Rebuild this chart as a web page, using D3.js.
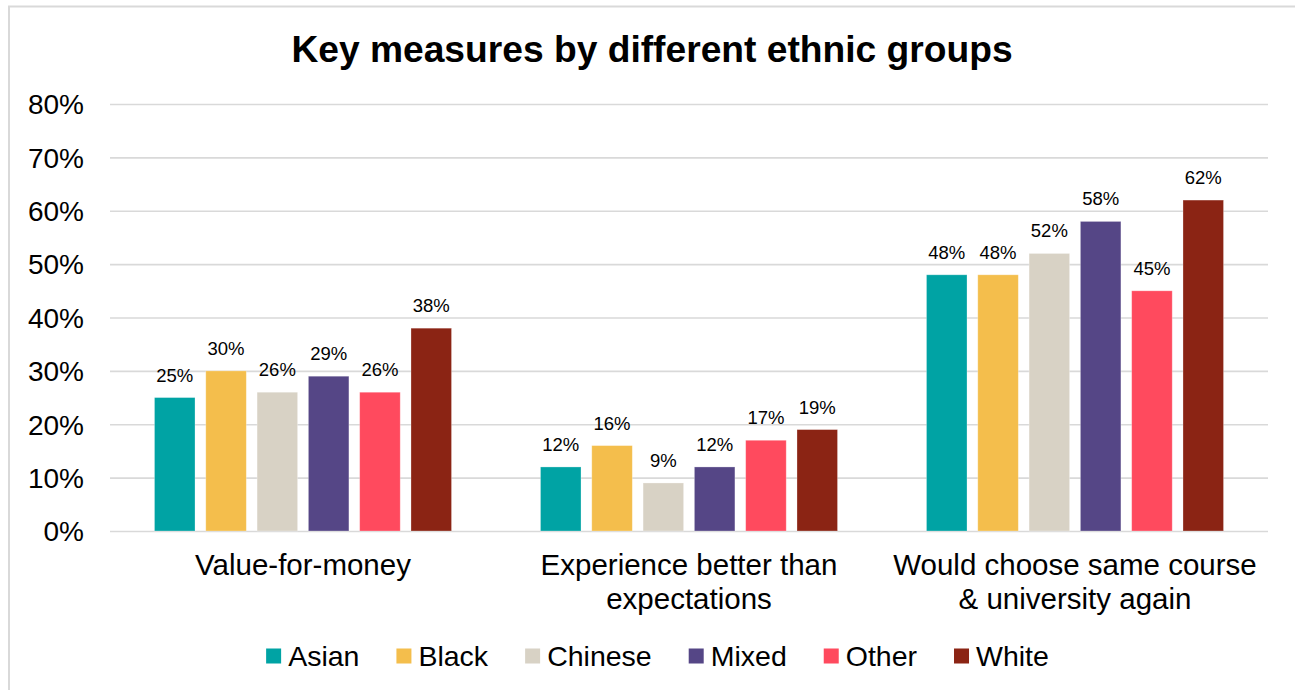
<!DOCTYPE html>
<html>
<head>
<meta charset="utf-8">
<script src="https://cdn.jsdelivr.net/npm/d3@7"></script>
<style>
  html, body { margin: 0; padding: 0; background: #fff; }
  svg { display: block; font-family: "Liberation Sans", Arial, sans-serif; }
</style>
</head>
<body>
<svg id="chart" width="1295" height="690"></svg>
<script>
// Survey measures and ethnic groups
const measures = [
  ["Value-for-money"],
  ["Experience better than", "expectations"],
  ["Would choose same course", "& university again"]
];
const groups = ["Asian", "Black", "Chinese", "Mixed", "Other", "White"];
const colors = ["#00A3A4", "#F4BE4C", "#D8D2C5", "#554686", "#FF4A5E", "#8B2414"];

// Percentage for each group, one array per measure
const valueForMoney = [25, 30, 26, 29, 26, 38];
const betterThanExpected = [12, 16, 9, 12, 17, 19];
const wouldChooseAgain = [48, 48, 52, 58, 45, 62];
const seriesByMeasure = [valueForMoney, betterThanExpected, wouldChooseAgain];

const yTicks = [0, 10, 20, 30, 40, 50, 60, 70, 80];

const svg = d3.select("#chart");

// Outer chart frame (top and left edges visible)
svg.append("rect")
  .attr("x", 9).attr("y", 6.5)
  .attr("width", 1400).attr("height", 800)
  .attr("fill", "none").attr("stroke", "#d9d9d9").attr("stroke-width", 2);

svg.append("text")
  .attr("x", 652).attr("y", 62)
  .attr("text-anchor", "middle")
  .attr("font-size", 37.2).attr("font-weight", "bold").attr("fill", "#000")
  .text("Key measures by different ethnic groups");

const plot = { left: 110, right: 1268, top: 104, bottom: 531 };

const y = d3.scaleLinear().domain([0, 80]).range([plot.bottom, plot.top]);
const x0 = d3.scaleBand().domain(d3.range(measures.length)).range([plot.left, plot.right]).padding(0);
const x1 = d3.scaleBand().domain(groups).range([0, x0.bandwidth()])
  .paddingInner(0.21).paddingOuter(0.867);

// Gridlines and y-axis labels
const yAxis = d3.axisLeft(y).tickValues(yTicks).tickFormat(d => d + "%")
  .tickSize(-(plot.right - plot.left)).tickPadding(26);
const gy = svg.append("g").attr("transform", `translate(${plot.left},0)`).call(yAxis);
gy.select(".domain").remove();
gy.selectAll(".tick line").attr("stroke", "#d9d9d9").attr("stroke-width", 1.6);
gy.selectAll(".tick text")
  .attr("font-size", 28).attr("fill", "#000")
  .attr("font-family", "'Liberation Sans', Arial, sans-serif")
  .attr("dy", "0.35em");

// Bars
const gGroups = svg.selectAll("g.measure")
  .data(seriesByMeasure)
  .join("g")
  .attr("class", "measure")
  .attr("transform", (d, i) => `translate(${x0(i)},0)`);

gGroups.selectAll("rect")
  .data(d => d.map((v, j) => ({ group: groups[j], value: v, color: colors[j] })))
  .join("rect")
  .attr("x", d => x1(d.group))
  .attr("y", d => y(d.value))
  .attr("width", x1.bandwidth())
  .attr("height", d => y(0) - y(d.value))
  .attr("fill", d => d.color)
  .attr("stroke", "#fff").attr("stroke-opacity", 0.35).attr("stroke-width", 0.8);

// Value labels
gGroups.selectAll("text.val")
  .data(d => d.map((v, j) => ({ group: groups[j], value: v })))
  .join("text")
  .attr("class", "val")
  .attr("x", d => x1(d.group) + x1.bandwidth() / 2)
  .attr("y", d => y(d.value) - 16)
  .attr("text-anchor", "middle")
  .attr("font-size", 18.5).attr("fill", "#000")
  .text(d => d.value + "%");

// Category labels
measures.forEach((lines, i) => {
  const t = svg.append("text")
    .attr("text-anchor", "middle")
    .attr("font-size", 29.5).attr("fill", "#000");
  lines.forEach((line, k) => {
    t.append("tspan")
      .attr("x", x0(i) + x0.bandwidth() / 2)
      .attr("y", 575 + k * 34)
      .text(line);
  });
});

// Legend
const legend = svg.append("g");
const sq = 15, gapText = 7, gapItem = 37;
let cx = 0;
groups.forEach((g, j) => {
  const item = legend.append("g").attr("transform", `translate(${cx},0)`);
  item.append("rect").attr("x", 0).attr("y", -7.5).attr("width", sq).attr("height", sq).attr("fill", colors[j]);
  const t = item.append("text").attr("x", sq + gapText).attr("y", 10)
    .attr("font-size", 28.5).attr("fill", "#000").text(g);
  cx += sq + gapText + t.node().getComputedTextLength() + gapItem;
});
const legendWidth = cx - gapItem;
legend.attr("transform", `translate(${657.5 - legendWidth / 2},656)`);
</script>
</body>
</html>
